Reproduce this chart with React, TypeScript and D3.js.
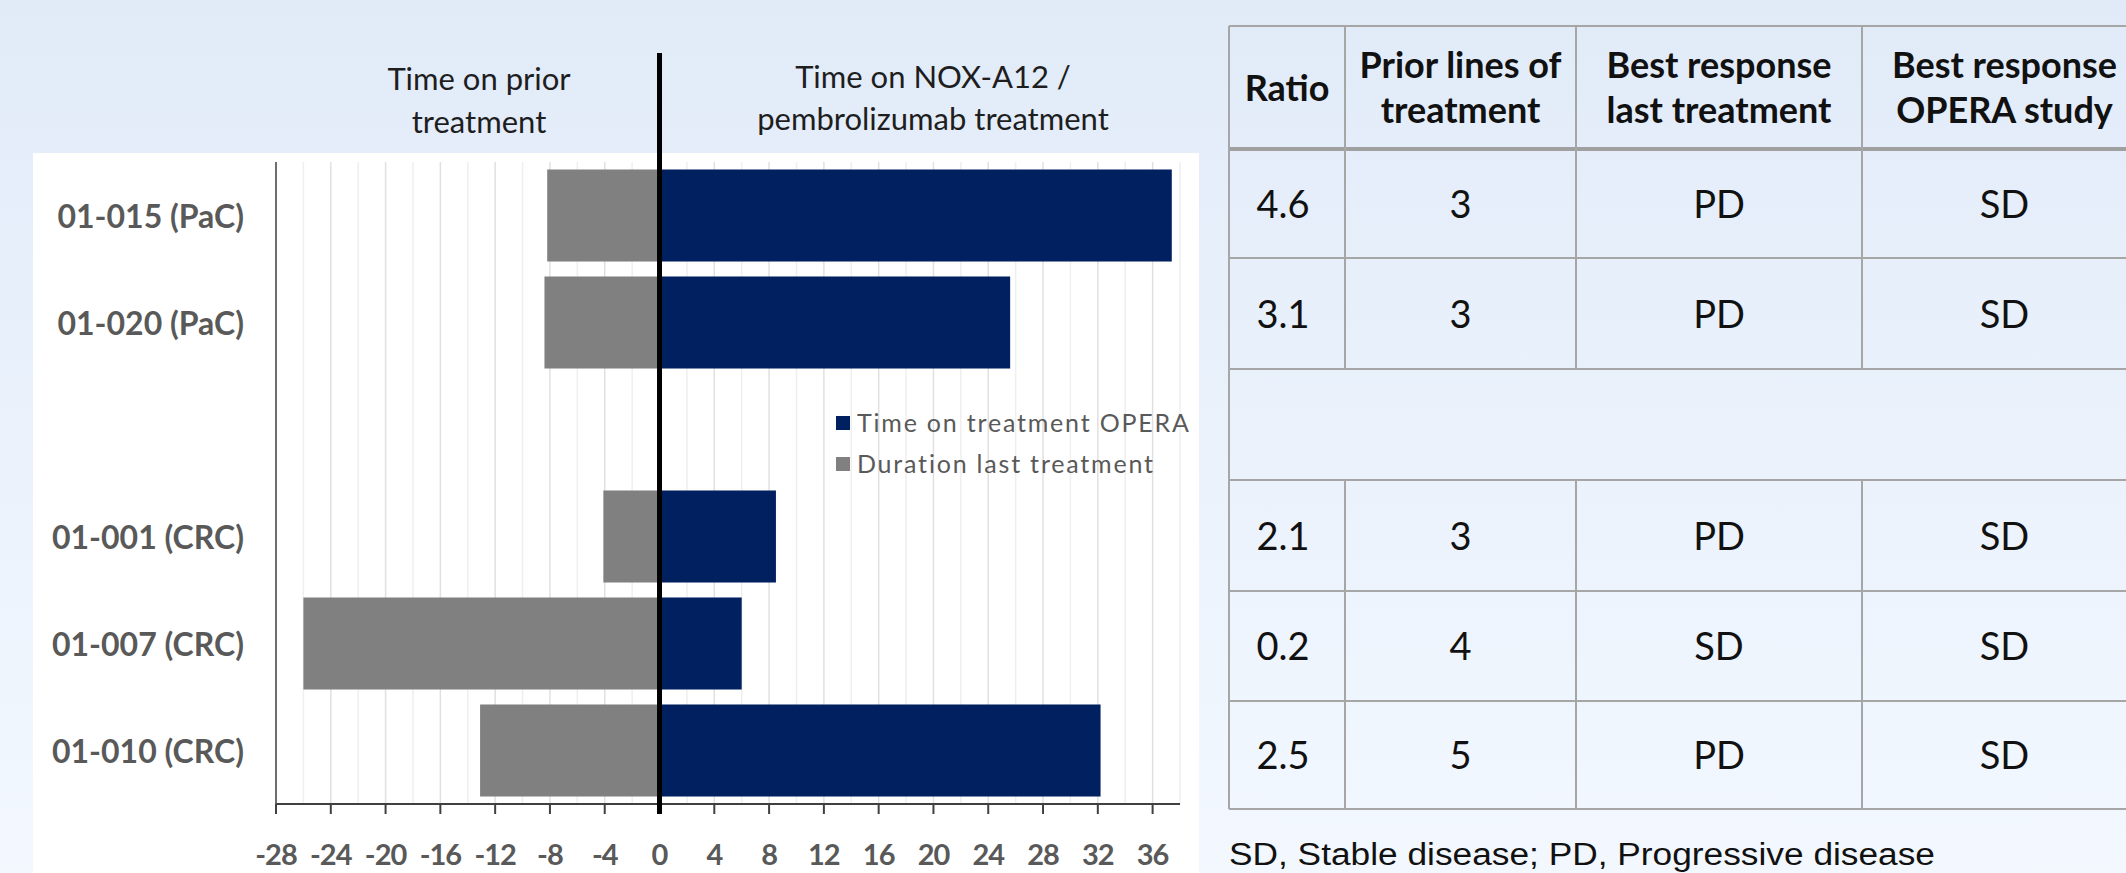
import React from "react";
import * as d3 from "d3";

// ---------- data ----------
const categories = ["01-015 (PaC)", "01-020 (PaC)", "01-001 (CRC)", "01-007 (CRC)", "01-010 (CRC)"];
// a blank slot between the PaC and CRC patients
const bandSlots = ["01-015 (PaC)", "01-020 (PaC)", "__gap__", "01-001 (CRC)", "01-007 (CRC)", "01-010 (CRC)"];
const priorDuration = [-8.2, -8.4, -4.1, -26.0, -13.1];
const operaDuration = [37.4, 25.6, 8.5, 6.0, 32.2];
const xTickValues = [-28, -24, -20, -16, -12, -8, -4, 0, 4, 8, 12, 16, 20, 24, 28, 32, 36];
const gridValues = d3.range(-26, 39, 2);
const legendLabels = ["Time on treatment OPERA", "Duration last treatment"];
const headerLeft = ["Time on prior", "treatment"];
const headerRight = ["Time on NOX-A12 /", "pembrolizumab treatment"];

const tableHeaders = [["Ratio"], ["Prior lines of", "treatment"], ["Best response", "last treatment"], ["Best response", "OPERA study"]];
const ratios = ["4.6", "3.1", "2.1", "0.2", "2.5"];
const priorLines = ["3", "3", "3", "4", "5"];
const bestLast = ["PD", "PD", "PD", "SD", "PD"];
const bestOpera = ["SD", "SD", "SD", "SD", "SD"];
const footnote = "SD, Stable disease; PD, Progressive disease";

const NAVY = "#002060";
const GRAY = "#808080";
const LABEL = "#595959";
const FONT = "Lato, 'Open Sans', sans-serif";

export default function App() {
  const W = 2126, H = 873;
  const x = d3.scaleLinear().domain([-28, 38]).range([276, 1180]);
  const y = d3.scaleBand<string>().domain(bandSlots).range([162, 804]).paddingInner(0.14).paddingOuter(0.07);
  const yTop = 162, yBottom = 804;

  // table geometry
  const colEdges = [1229, 1345, 1576, 1862, 2147];
  const rowEdges = [26, 149, 258, 369, 480, 591, 701, 809];
  const tableColumns = [ratios, priorLines, bestLast, bestOpera];
  // data rows map to table rows (skipping the blank row index 3)
  const dataRowIndex = [1, 2, 4, 5, 6];

  return (
    <svg width={W} height={H} style={{ position: "absolute", left: 0, top: 0 }} fontFamily={FONT}>
      <defs>
        <linearGradient id="bg" x1="0" y1="0" x2="0" y2="1">
          <stop offset="0" stopColor="#e1ebf8" />
          <stop offset="1" stopColor="#f3f8ff" />
        </linearGradient>
      </defs>
      <rect x={0} y={0} width={W} height={H} fill="url(#bg)" />
      <rect x={33} y={153} width={1166} height={H - 153} fill="#ffffff" />

      {/* grid lines */}
      {gridValues.map((v) => (
        <line key={"g" + v} x1={x(v)} x2={x(v)} y1={yTop} y2={yBottom}
          stroke={v % 4 === 0 ? "#e0e0e0" : "#efefef"} strokeWidth={1.5} />
      ))}

      {/* bars */}
      {categories.map((c, i) => (
        <g key={c}>
          <rect x={x(priorDuration[i])} y={y(c)} width={x(0) - x(priorDuration[i])} height={y.bandwidth()} fill={GRAY} />
          <rect x={x(0)} y={y(c)} width={x(operaDuration[i]) - x(0)} height={y.bandwidth()} fill={NAVY} />
        </g>
      ))}

      {/* left axis line */}
      <line x1={x(-28)} x2={x(-28)} y1={yTop} y2={yBottom} stroke="#6e6e6e" strokeWidth={2} />
      {/* bottom axis */}
      <line x1={x(-28)} x2={x(38)} y1={yBottom} y2={yBottom} stroke="#404040" strokeWidth={2} />
      {xTickValues.map((t) => (
        <g key={"t" + t}>
          <line x1={x(t)} x2={x(t)} y1={yBottom} y2={yBottom + 10} stroke="#404040" strokeWidth={2} />
          <text x={x(t)} y={865} textAnchor="middle" fontSize={29} fontWeight={700} fill={LABEL}
            letterSpacing={-1}>{t}</text>
        </g>
      ))}

      {/* zero divider */}
      <line x1={x(0)} x2={x(0)} y1={53} y2={yBottom + 10} stroke="#000" strokeWidth={5} />

      {/* category labels */}
      {categories.map((c) => (
        <text key={"l" + c} x={244} y={(y(c) as number) + y.bandwidth() / 2 + 12} textAnchor="end"
          fontSize={32} fontWeight={700} fill={LABEL}>{c}</text>
      ))}

      {/* headers */}
      {headerLeft.map((s, i) => (
        <text key={"hl" + i} x={479} y={90 + i * 43} textAnchor="middle" fontSize={31} fill="#1e1e1e">{s}</text>
      ))}
      {headerRight.map((s, i) => (
        <text key={"hr" + i} x={933} y={88 + i * 42} textAnchor="middle" fontSize={31} fill="#1e1e1e">{s}</text>
      ))}

      {/* legend */}
      {legendLabels.map((s, i) => (
        <g key={"lg" + i}>
          <rect x={836} y={416 + i * 41} width={14} height={14} fill={i === 0 ? NAVY : GRAY} />
          <text x={857} y={432 + i * 41} fontSize={25} fill={LABEL} letterSpacing={1.8}>{s}</text>
        </g>
      ))}

      {/* table */}
      <g>
        {rowEdges.map((ry, i) => (
          <line key={"rl" + i} x1={colEdges[0]} x2={colEdges[colEdges.length - 1]} y1={ry} y2={ry}
            stroke={i === 1 ? "#a0a0a0" : "#a6a6a6"} strokeWidth={i === 1 ? 4 : 2} />
        ))}
        {colEdges.map((cx, j) => (
          <g key={"cl" + j}>
            <line x1={cx} x2={cx} y1={rowEdges[0]} y2={rowEdges[3]} stroke="#a6a6a6" strokeWidth={2} />
            <line x1={cx} x2={cx} y1={rowEdges[4]} y2={rowEdges[7]} stroke="#a6a6a6" strokeWidth={2} />
            {(j === 0 || j === colEdges.length - 1) && (
              <line x1={cx} x2={cx} y1={rowEdges[3]} y2={rowEdges[4]} stroke="#a6a6a6" strokeWidth={2} />
            )}
          </g>
        ))}
        {tableHeaders.map((lines, j) => {
          const cx = (colEdges[j] + colEdges[j + 1]) / 2;
          return lines.length === 1 ? (
            <text key={"th" + j} x={cx} y={101} textAnchor="middle" fontSize={36} fontWeight={700} fill="#111">{lines[0]}</text>
          ) : (
            lines.map((s, k) => (
              <text key={"th" + j + k} x={cx} y={78 + k * 45} textAnchor="middle" fontSize={36} fontWeight={700} fill="#111">{s}</text>
            ))
          );
        })}
        {tableColumns.map((col, j) =>
          col.map((v, i) => {
            const r = dataRowIndex[i];
            const cy = (rowEdges[r] + rowEdges[r + 1]) / 2;
            return (
              <text key={"c" + j + "-" + i} x={(colEdges[j] + colEdges[j + 1]) / 2 - (j === 0 ? 4 : 0)} y={cy + 14}
                textAnchor="middle" fontSize={38} fill="#111">{v}</text>
            );
          })
        )}
      </g>

      {/* footnote */}
      <text x={1229} y={865} fontFamily="'Liberation Sans', Arial, sans-serif" fontSize={31} fill="#111"
        textLength={706} lengthAdjust="spacingAndGlyphs">{footnote}</text>
    </svg>
  );
}
